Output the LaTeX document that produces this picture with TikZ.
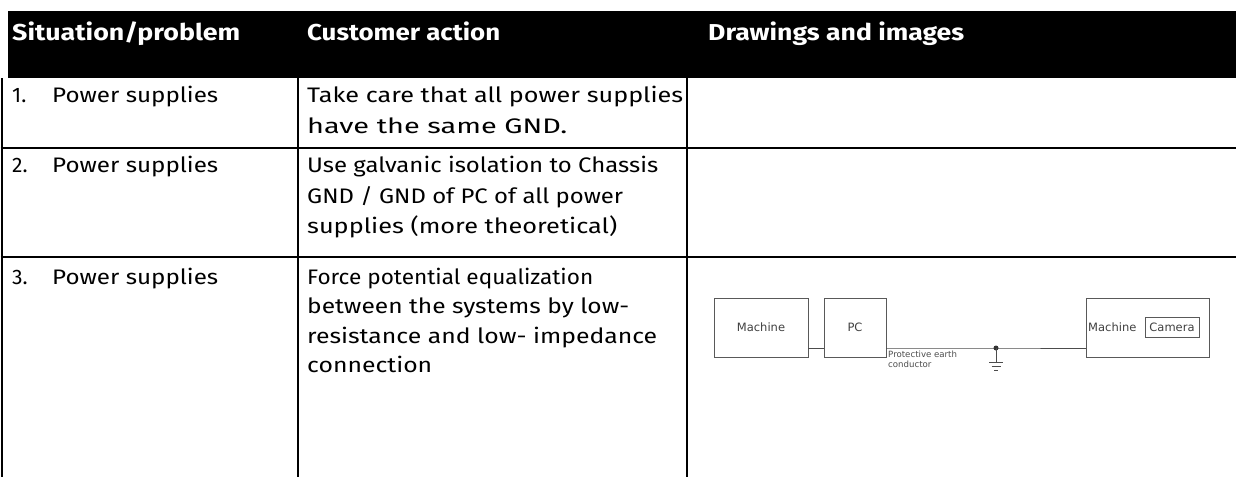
\documentclass[tikz,border=0pt]{standalone}
\usepackage{fontspec}
\usepackage{graphicx}
\setmainfont{Fira Sans}
\newfontfamily\diagfont{DejaVu Sans}
\usetikzlibrary{calc}
\newcommand\fitto[2]{\resizebox{#1}{\height}{#2}}
\begin{document}
\begin{tikzpicture}[x=1pt,y=-1pt,
  hdr/.style={font={\fontsize{23}{26}\selectfont\bfseries}, text=white, anchor=base west, inner sep=0pt},
  cell/.style={font={\fontsize{21}{24}\selectfont}, anchor=base west, inner sep=0pt},
  rule/.style={line width=2pt, black},
  box/.style={draw=black!65, line width=0.9pt, inner sep=0pt, font={\diagfont\fontsize{11.5}{13}\selectfont}, text=black!75},
  lbl/.style={font={\diagfont\fontsize{11.5}{13}\selectfont}, text=black!75, inner sep=0pt},
  small/.style={font={\diagfont\fontsize{8.6}{10}\selectfont}, text=black!70, inner sep=0pt, align=left},
  wire/.style={draw=black!70, line width=0.9pt}]
\useasboundingbox (0,0) rectangle (1236,477);
% header band
\fill[black] (8,11) rectangle (1236,78);
\node[hdr] (h1) at (12,40) {\fitto{228pt}{Situation/problem}};
\node[hdr] (h2) at (307,40) {\fitto{193pt}{Customer action}};
\node[hdr] (h3) at (708,40) {\fitto{256pt}{Drawings and images}};
% grid
\draw[rule] (1.5,78) -- (1.5,477);
\draw[rule] (298,78) -- (298,477);
\draw[rule] (687,78) -- (687,477);
\draw[rule] (0.5,148) -- (1236,148);
\draw[rule] (0.5,257) -- (1236,257);
% row 1
\node[cell] (r1n) at (12,102) {1.};
\node[cell] (r1t) at (52,102) {\fitto{166pt}{Power supplies}};
\node[cell] (r1a) at (307,102) {\fitto{376pt}{Take care that all power supplies}};
\node[cell] (r1b) at (307,133) {\fitto{260pt}{have the same GND.}};
% row 2
\node[cell] (r2n) at (12,172) {2.};
\node[cell] (r2t) at (52,172) {\fitto{166pt}{Power supplies}};
\node[cell] (r2a) at (307,172) {\fitto{351pt}{Use galvanic isolation to  Chassis}};
\node[cell] (r2b) at (307,203) {\fitto{316pt}{GND / GND of PC of all power}};
\node[cell] (r2c) at (307,233) {\fitto{310pt}{supplies (more theoretical)}};
% row 3
\node[cell] (r3n) at (12,284) {3.};
\node[cell] (r3t) at (52,284) {\fitto{166pt}{Power supplies}};
\node[cell] (r3a) at (307,284) {\fitto{286pt}{Force potential equalization}};
\node[cell] (r3b) at (307,313) {\fitto{322pt}{between the systems by low-}};
\node[cell] (r3c) at (307,343) {\fitto{350pt}{resistance and low- impedance}};
\node[cell] (r3d) at (307,372) {\fitto{125pt}{connection}};
% diagram
\node[box, minimum width=94pt, minimum height=59pt] (m1) at (761,327.5) {Machine};
\node[box, minimum width=62pt, minimum height=59pt] (pc) at (855,327.5) {PC};
\node[box, minimum width=123pt, minimum height=59pt] (m2) at (1147.5,327.5) {};
\node[lbl, anchor=west] (m2t) at (1088,327) {Machine};
\node[box, minimum width=54pt, minimum height=20pt] (cam) at (1172,327) {Camera};
\coordinate (j) at (996,348);
\coordinate (g) at (996,362);
\draw[wire] (m1.east |- j) -- (pc.west |- j);
\draw[wire] (pc.east |- j) -- (j) -- (m2.west |- j);
\fill[black!80] (j) circle (2.5pt);
\draw[wire] (j) -- (g);
\draw[wire] ($(g)+(-7,0)$) -- ($(g)+(7,0)$);
\draw[wire] ($(g)+(-4.5,4)$) -- ($(g)+(4.5,4)$);
\draw[wire] ($(g)+(-2,8)$) -- ($(g)+(2,8)$);
\node[small, anchor=north west] (pe) at (888,350.5) {Protective earth\\conductor};
\end{tikzpicture}
\end{document}
